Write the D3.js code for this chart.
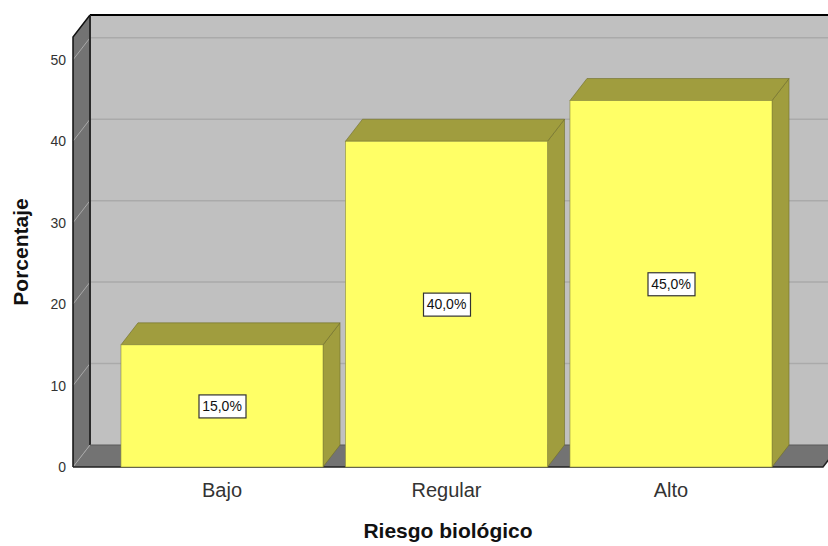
<!DOCTYPE html>
<html>
<head>
<meta charset="utf-8">
<script src="https://cdn.jsdelivr.net/npm/d3@7"></script>
<style>
  body { margin: 0; background: #fff; }
  text { font-family: "Liberation Sans", Arial, sans-serif; }
</style>
</head>
<body>
<script>
(function(){
  //chart data
  var categories = ["Bajo", "Regular", "Alto"];
  var percents = [15.0, 40.0, 45.0];
  var tickValues = [0, 10, 20, 30, 40, 50];
  var xTitle = "Riesgo biológico",
      yTitle = "Porcentaje";

  var width = 828, height = 546;
  var frontLeft = 73, frontRight = 823, frontBottom = 467, frontTop = 37;
  var dx = 17, dy = 22; //depth offset

  var svg = d3.select("body").append("svg")
      .attr("width", width)
      .attr("height", height);

  var yScale = d3.scaleLinear()
      .domain([0, 52.8])
      .range([frontBottom, frontTop]);

  var xScale = d3.scaleBand()
      .domain(categories)
      .range([109.75, 783.25])
      .paddingInner(0.1)
      .paddingOuter(0.05);

  function poly(pts){ return "M" + pts.map(function(p){ return p.join(","); }).join("L") + "Z"; }

  //back wall
  svg.append("path")
      .attr("d", poly([[frontLeft+dx, frontTop-dy], [frontRight+dx+20, frontTop-dy], [frontRight+dx+20, frontBottom-dy], [frontLeft+dx, frontBottom-dy]]))
      .attr("fill", "#c0c0c0");

  //left wall
  svg.append("path")
      .attr("d", poly([[frontLeft, frontTop], [frontLeft+dx, frontTop-dy], [frontLeft+dx, frontBottom-dy], [frontLeft, frontBottom]]))
      .attr("fill", "#737373");

  //floor
  svg.append("path")
      .attr("d", poly([[frontLeft, frontBottom], [frontLeft+dx, frontBottom-dy], [frontRight+dx, frontBottom-dy], [frontRight, frontBottom]]))
      .attr("fill", "#737373");

  //gridlines on back wall and left wall
  var grid = svg.append("g");
  grid.selectAll(".backGrid")
      .data(tickValues.filter(function(d){ return d > 0; }))
      .enter().append("line")
      .attr("x1", frontLeft+dx).attr("x2", width)
      .attr("y1", function(d){ return yScale(d) - dy; })
      .attr("y2", function(d){ return yScale(d) - dy; })
      .attr("stroke", "#aaaaaa").attr("stroke-width", 1.5);
  grid.selectAll(".sideGrid")
      .data(tickValues)
      .enter().append("line")
      .attr("x1", frontLeft).attr("x2", frontLeft+dx)
      .attr("y1", function(d){ return yScale(d); })
      .attr("y2", function(d){ return yScale(d) - dy; })
      .attr("stroke", "#a8a8a8").attr("stroke-width", 1);

  //frame edges
  svg.append("line").attr("x1", frontLeft+dx).attr("x2", width)
      .attr("y1", frontTop-dy).attr("y2", frontTop-dy)
      .attr("stroke", "#000").attr("stroke-width", 2);
  svg.append("line").attr("x1", frontLeft+dx).attr("x2", frontLeft+dx)
      .attr("y1", frontTop-dy).attr("y2", frontBottom-dy)
      .attr("stroke", "#2a2a2a").attr("stroke-width", 2);
  svg.append("line").attr("x1", frontLeft+dx).attr("x2", frontRight+dx)
      .attr("y1", frontBottom-dy).attr("y2", frontBottom-dy)
      .attr("stroke", "#5a5a5a").attr("stroke-width", 1);
  svg.append("path")
      .attr("d", "M" + frontLeft + "," + frontBottom + "L" + frontLeft + "," + frontTop + "L" + (frontLeft+dx) + "," + (frontTop-dy))
      .attr("fill", "none").attr("stroke", "#111").attr("stroke-width", 1.5);
  svg.append("path")
      .attr("d", "M" + frontLeft + "," + frontBottom + "L" + frontRight + "," + frontBottom + "L" + (frontRight+dx) + "," + (frontBottom-dy))
      .attr("fill", "none").attr("stroke", "#222").attr("stroke-width", 1.5);

  //bars
  var bars = svg.selectAll(".bar")
      .data(categories.map(function(c, i){ return {cat: c, val: percents[i]}; }))
      .enter().append("g").attr("class", "bar");

  bars.append("path") //side face
      .attr("d", function(d){
          var x1 = xScale(d.cat) + xScale.bandwidth(), y = yScale(d.val);
          return poly([[x1, y], [x1+dx, y-dy], [x1+dx, frontBottom-dy], [x1, frontBottom]]);
      })
      .attr("fill", "#a09d3e").attr("stroke", "#6f6d2a").attr("stroke-width", 0.6);
  bars.append("path") //top face
      .attr("d", function(d){
          var x0 = xScale(d.cat), x1 = x0 + xScale.bandwidth(), y = yScale(d.val);
          return poly([[x0, y], [x0+dx, y-dy], [x1+dx, y-dy], [x1, y]]);
      })
      .attr("fill", "#a09d3e").attr("stroke", "#6f6d2a").attr("stroke-width", 0.6);
  bars.append("rect") //front face
      .attr("x", function(d){ return xScale(d.cat); })
      .attr("y", function(d){ return yScale(d.val); })
      .attr("width", xScale.bandwidth())
      .attr("height", function(d){ return frontBottom - yScale(d.val); })
      .attr("fill", "#ffff66").attr("stroke", "#8a8a3a").attr("stroke-width", 0.6);

  //value labels
  var labels = bars.append("g")
      .attr("transform", function(d){
          return "translate(" + (xScale(d.cat) + xScale.bandwidth()/2) + "," + ((yScale(d.val) + frontBottom)/2) + ")";
      });
  labels.append("rect")
      .attr("x", -23).attr("y", -11).attr("width", 47).attr("height", 23)
      .attr("fill", "#fff").attr("stroke", "#333").attr("stroke-width", 1.2);
  labels.append("text")
      .attr("text-anchor", "middle").attr("y", 5)
      .attr("font-size", 14).attr("fill", "#111")
      .text(function(d){ return d.val.toFixed(1).replace(".", ",") + "%"; });

  //y tick labels
  svg.selectAll(".ytick")
      .data(tickValues)
      .enter().append("text")
      .attr("x", 66)
      .attr("y", function(d){ return yScale(d) + 5; })
      .attr("text-anchor", "end")
      .attr("font-size", 14).attr("fill", "#333")
      .text(function(d){ return d; });

  //x tick labels
  svg.selectAll(".xtick")
      .data(categories)
      .enter().append("text")
      .attr("x", function(d){ return xScale(d) + xScale.bandwidth()/2; })
      .attr("y", 497)
      .attr("text-anchor", "middle")
      .attr("font-size", 20).attr("fill", "#333")
      .text(function(d){ return d; });

  //axis titles
  svg.append("text")
      .attr("x", 448).attr("y", 538)
      .attr("text-anchor", "middle")
      .attr("font-size", 21).attr("font-weight", "bold").attr("fill", "#111")
      .text(xTitle);
  svg.append("text")
      .attr("transform", "translate(28,252) rotate(-90)")
      .attr("text-anchor", "middle")
      .attr("font-size", 21).attr("font-weight", "bold").attr("fill", "#111")
      .text(yTitle);
})();
</script>
</body>
</html>
